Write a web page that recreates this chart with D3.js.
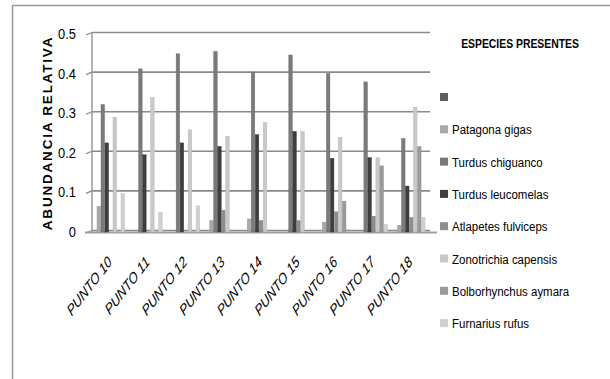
<!DOCTYPE html>
<meta charset="utf-8">
<style>
body { margin: 0; background: #fff; }
text { font-family: "Liberation Sans", Arial, sans-serif; fill: #000; }
</style>
<body>
<script src="https://d3js.org/d3.v7.min.js"></script>
<svg width="610" height="379"></svg>
<script>

// data
var puntos = ["PUNTO 10","PUNTO 11","PUNTO 12","PUNTO 13","PUNTO 14","PUNTO 15","PUNTO 16","PUNTO 17","PUNTO 18"];
var especies = ["", "Patagona gigas", "Turdus chiguanco", "Turdus leucomelas", "Atlapetes fulviceps",
                "Zonotrichia capensis", "Bolborhynchus aymara", "Furnarius rufus"];
var colores = ["#5f5f5f", "#a9a9a9", "#7a7a7a", "#3e3e3e", "#8e8e8e", "#c9c9c9", "#9a9a9a", "#d0d0d0"];

var vacio        = [0, 0, 0, 0, 0, 0, 0, 0, 0];
var patagona     = [0.065, 0, 0, 0.029, 0.033, 0, 0.025, 0, 0.017];
var chiguanco    = [0.322, 0.412, 0.450, 0.456, 0.404, 0.447, 0.400, 0.379, 0.236];
var leucomelas   = [0.225, 0.195, 0.225, 0.216, 0.246, 0.254, 0.186, 0.188, 0.116];
var atlapetes    = [0, 0, 0, 0.055, 0.029, 0.029, 0.051, 0.040, 0.037];
var zonotrichia  = [0.290, 0.340, 0.258, 0.242, 0.277, 0.254, 0.239, 0.188, 0.315];
var bolborhynchus= [0, 0, 0, 0, 0, 0, 0.078, 0.167, 0.216];
var furnarius    = [0.097, 0.050, 0.066, 0, 0, 0, 0, 0.019, 0.037];
var series = [vacio, patagona, chiguanco, leucomelas, atlapetes, zonotrichia, bolborhynchus, furnarius];
var yTicks = [0, 0.1, 0.2, 0.3, 0.4, 0.5];

var svg = d3.select("svg");

// the original picture is squeezed sideways, so text gets a horizontal scale
function squash(x, y, sx, rot) {
  return "translate(" + x + "," + y + ") scale(" + sx + ",1)" + (rot ? " rotate(" + rot + ")" : "");
}

// outer frame (only top and left edges show)
svg.append("path")
    .attr("d", "M12.5,380V5.5H611")
    .attr("fill", "none")
    .attr("stroke", "#999")
    .attr("stroke-width", 1.5);

var x0 = d3.scaleBand().domain(puntos).range([92, 430]);
var x1 = d3.scaleBand().domain(d3.range(especies.length)).range([1, 33]);
var y = d3.scaleLinear().domain([0, 0.5]).range([232, 34]);

// back wall grid
svg.append("g").selectAll("line")
  .data(yTicks)
  .enter().append("line")
    .attr("x1", 92).attr("x2", 430)
    .attr("y1", function(d) { return y(d) - 1.5; })
    .attr("y2", function(d) { return y(d) - 1.5; })
    .attr("stroke", "#8a8a8a")
    .attr("stroke-width", 1.6);

svg.append("line")
    .attr("x1", 92).attr("x2", 92)
    .attr("y1", y(0.5) - 1.5).attr("y2", y(0))
    .attr("stroke", "#9a9a9a").attr("stroke-width", 1.5);

// tick marks + labels
svg.append("g").selectAll("line")
  .data(yTicks)
  .enter().append("line")
    .attr("x1", 86).attr("x2", 92)
    .attr("y1", function(d) { return y(d) + 1; })
    .attr("y2", function(d) { return y(d) - 1.5; })
    .attr("stroke", "#8a8a8a").attr("stroke-width", 1.2);

svg.append("g").selectAll("text")
  .data(yTicks)
  .enter().append("text")
    .attr("transform", function(d) { return squash(76, y(d) + 5, 0.92); })
    .attr("text-anchor", "end")
    .attr("font-size", "14px")
    .text(function(d) { return d === 0 ? "0" : d3.format(".1f")(d); });

svg.append("text")
    .attr("transform", squash(51.5, 133, 1, -90))
    .attr("text-anchor", "middle")
    .attr("font-size", "13.5px")
    .attr("font-weight", "bold")
    .attr("letter-spacing", "1.8px")
    .text("ABUNDANCIA RELATIVA");

// floor
svg.append("line")
    .attr("x1", 85).attr("x2", 437)
    .attr("y1", y(0) + 0.5).attr("y2", y(0) + 0.5)
    .attr("stroke", "#a0a0a0").attr("stroke-width", 2);

// bars
var groups = svg.append("g").selectAll("g")
  .data(puntos)
  .enter().append("g")
    .attr("transform", function(d) { return "translate(" + x0(d) + ",0)"; });

groups.selectAll("rect")
  .data(function(d, i) { return series.map(function(s, k) { return {k: k, v: s[i]}; }); })
  .enter().append("rect")
    .attr("x", function(d) { return x1(d.k); })
    .attr("width", x1.bandwidth() - 0.4)
    .attr("y", function(d) { return y(d.v); })
    .attr("height", function(d) { return y(0) - y(d.v); })
    .attr("fill", function(d) { return colores[d.k]; })
    .attr("stroke", function(d) { return d3.color(colores[d.k]).darker(0.3); })
    .attr("stroke-width", 0.4);

// x labels
svg.append("g").selectAll("text")
  .data(puntos)
  .enter().append("text")
    .attr("transform", function(d) {
      return squash(x0(d) + x0.bandwidth() / 2 + 2, 263, 0.77, -45);
    })
    .attr("text-anchor", "end")
    .attr("font-size", "15.5px")
    .attr("font-style", "italic")
    .text(function(d) { return d; });

// legend
svg.append("text")
    .attr("transform", squash(520, 48, 0.77))
    .attr("text-anchor", "middle")
    .attr("font-size", "13.5px")
    .attr("font-weight", "bold")
    .text("ESPECIES PRESENTES");

var legend = svg.append("g").selectAll("g")
  .data(especies)
  .enter().append("g")
    .attr("transform", function(d, i) { return "translate(440," + (97 + i * 32.3) + ")"; });

legend.append("rect")
    .attr("x", 0).attr("y", -4)
    .attr("width", 8).attr("height", 8)
    .attr("fill", function(d, i) { return colores[i]; });

legend.append("text")
    .attr("transform", squash(12, 5, 0.85))
    .attr("font-size", "13.5px")
    .text(function(d) { return d; });

</script>
</body>
